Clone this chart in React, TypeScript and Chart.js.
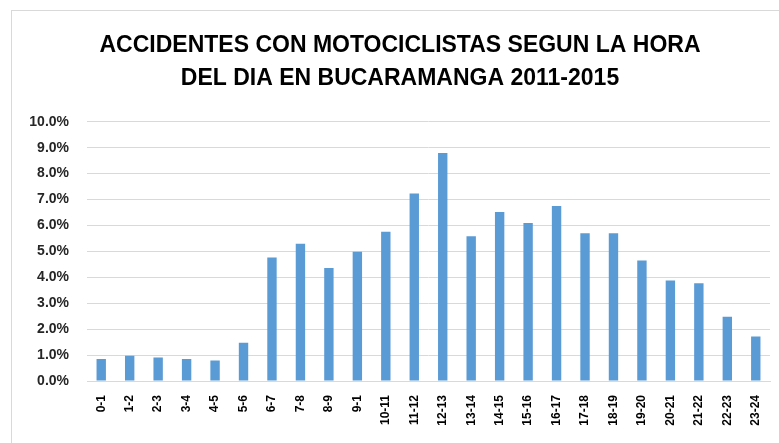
import React, { useEffect, useRef } from "react";
import { Chart, registerables } from "chart.js";

Chart.register(...registerables);

const categories = ["0-1","1-2","2-3","3-4","4-5","5-6","6-7","7-8","8-9","9-1","10-11","11-12","12-13","13-14","14-15","15-16","16-17","17-18","18-19","19-20","20-21","21-22","22-23","23-24"];
const values = [0.85,0.97,0.91,0.85,0.79,1.48,4.76,5.29,4.36,4.99,5.76,7.23,8.80,5.58,6.52,6.10,6.75,5.70,5.70,4.65,3.88,3.77,2.48,1.72];
const titleLines = ["ACCIDENTES CON MOTOCICLISTAS SEGUN LA HORA", "DEL DIA EN BUCARAMANGA 2011-2015"];

const FONT = "'Liberation Sans', Arial, sans-serif";

export default function App() {
  const ref = useRef<HTMLCanvasElement>(null);
  useEffect(() => {
    const chart = new Chart(ref.current!, {
      type: "bar",
      data: {
        labels: categories,
        datasets: [{
          data: values,
          backgroundColor: "#5B9BD5",
          barPercentage: 0.66,
          categoryPercentage: 0.5,
        }],
      },
      options: {
        animation: false,
        responsive: false,
        devicePixelRatio: 1,
        layout: { padding: { left: 18, right: 32, top: 0, bottom: 0 } },
        plugins: {
          legend: { display: false },
          tooltip: { enabled: false },
          title: {
            display: true,
            text: titleLines,
            color: "#000000",
            font: { family: FONT, size: 23, weight: "bold", lineHeight: 1.43 },
            padding: { top: 18, bottom: 27 },
          },
        },
        scales: {
          x: {
            grid: { display: false },
            border: { display: true, color: "#d9d9d9" },
            ticks: {
              color: "#000000",
              font: { family: FONT, size: 12, weight: "bold" },
              minRotation: 90,
              maxRotation: 90,
              autoSkip: false,
              padding: 6,
            },
            afterFit: (s: any) => { s.height = 70; },
          },
          y: {
            min: 0,
            max: 10,
            grid: { color: "#d9d9d9", lineWidth: 1, drawTicks: false },
            border: { display: false },
            ticks: {
              stepSize: 1,
              color: "#262626",
              padding: 18,
              font: { family: FONT, size: 14, weight: "bold" },
              callback: (v: any) => Number(v).toFixed(1) + "%",
            },
            afterFit: (s: any) => { s.width = 57; },
          },
        },
      },
    });
    return () => chart.destroy();
  }, []);
  return (
    <div style={{ position: "fixed", left: 11, top: 10, width: 790, height: 440, border: "1px solid #d9d9d9", background: "#fff" }}>
      <canvas ref={ref} width={790} height={440} style={{ display: "block" }} />
    </div>
  );
}
